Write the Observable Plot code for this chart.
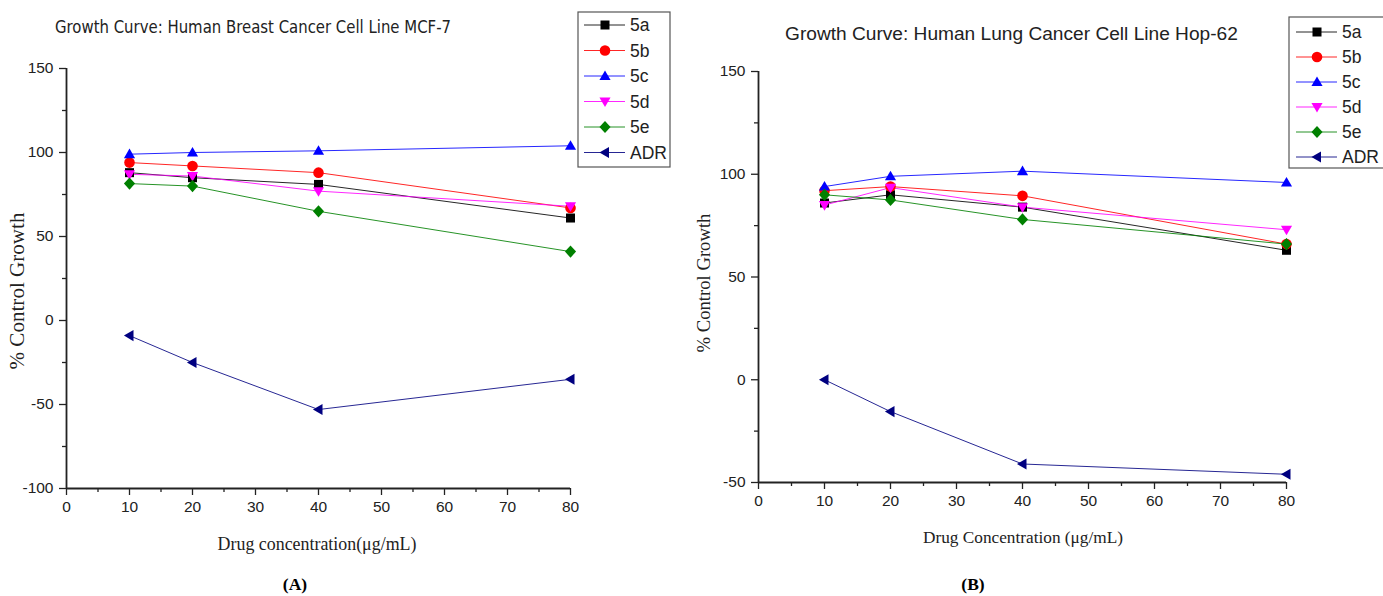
<!DOCTYPE html>
<html><head><meta charset="utf-8">
<script src="https://cdn.jsdelivr.net/npm/d3@7"></script>
<script src="https://cdn.jsdelivr.net/npm/@observablehq/plot@0.6"></script>
<style>
body{margin:0;background:#fff;overflow:hidden;}
#root{position:relative;width:1383px;height:596px;overflow:hidden;background:#fff;}
#root svg{position:absolute;}
</style></head><body><div id="root"></div>
<script>
// ---------- data ----------
const concentrations = [10, 20, 40, 80];
const seriesLabels = ["5a", "5b", "5c", "5d", "5e", "ADR"];
const seriesColors = ["#000000", "#ff0000", "#0000ff", "#ff00ff", "#008000", "#000080"];

const mcf7_5a  = [88, 85, 81, 61];
const mcf7_5b  = [94, 92, 88, 67];
const mcf7_5c  = [99, 100, 101, 104];
const mcf7_5d  = [87, 86, 77, 68];
const mcf7_5e  = [81.5, 80, 65, 41];
const mcf7_ADR = [-9, -25, -53, -35];

const hop62_5a  = [86, 90, 84, 63];
const hop62_5b  = [92, 94, 89.5, 66];
const hop62_5c  = [94, 99, 101.5, 96];
const hop62_5d  = [85, 93.5, 84, 73];
const hop62_5e  = [90, 87.5, 78, 66];
const hop62_ADR = [0, -15.5, -41, -46];

const xTicksMajor = [0, 10, 20, 30, 40, 50, 60, 70, 80];
const xTicksMinor = [5, 15, 25, 35, 45, 55, 65, 75];
const yTicksMajorA = [-100, -50, 0, 50, 100, 150];
const yTicksMinorA = [-75, -25, 25, 75, 125];
const yTicksMajorB = [-50, 0, 50, 100, 150];
const yTicksMinorB = [-25, 25, 75, 125];

const titleA = "Growth Curve: Human Breast Cancer Cell Line MCF-7";
const titleB = "Growth Curve: Human Lung Cancer Cell Line Hop-62";
const xLabelA = "Drug concentration(\u03bcg/mL)";
const xLabelB = "Drug Concentration (\u03bcg/mL)";
const yLabel = "% Control Growth";

// ---------- symbols ----------
const rad = s => Math.sqrt(s / Math.PI);
const symSquare = {draw(c, s){const h = rad(s) * 0.85; c.rect(-h, -h, 2*h, 2*h);}};
const symCircle = {draw(c, s){const r = rad(s); c.moveTo(r, 0); c.arc(0, 0, r, 0, 2*Math.PI);}};
const symTriUp = {draw(c, s){const r = rad(s); c.moveTo(0, -r*1.05); c.lineTo(r*1.05, r*0.75); c.lineTo(-r*1.05, r*0.75); c.closePath();}};
const symTriDown = {draw(c, s){const r = rad(s); c.moveTo(0, r*1.05); c.lineTo(r*1.05, -r*0.75); c.lineTo(-r*1.05, -r*0.75); c.closePath();}};
const symDiamond = {draw(c, s){const r = rad(s); c.moveTo(0, -r*1.15); c.lineTo(r*1.05, 0); c.lineTo(0, r*1.15); c.lineTo(-r*1.05, 0); c.closePath();}};
const symTriLeft = {draw(c, s){const r = rad(s); c.moveTo(-r*1.05, 0); c.lineTo(r*0.75, -r*1.05); c.lineTo(r*0.75, r*1.05); c.closePath();}};
const seriesSymbols = [symSquare, symCircle, symTriUp, symTriDown, symDiamond, symTriLeft];
const MARK_R = 5.3;

// ---------- charts ----------
const fmt = d => String(d);
function makeChart(vals, cfg) {
  const marks = [
    Plot.axisY(cfg.yMajor, {tickSize: 7, tickPadding: 6, label: null, strokeWidth: 1.3, fill: "#222", fontSize: 15.5, tickFormat: fmt}),
    Plot.axisY(cfg.yMinor, {tickSize: 4, tickFormat: () => "", label: null, strokeWidth: 1.3}),
    Plot.axisX(xTicksMajor, {tickSize: 7, tickPadding: 5, label: null, strokeWidth: 1.3, fill: "#222", fontSize: 15.5, tickFormat: fmt}),
    Plot.axisX(xTicksMinor, {tickSize: 4, tickFormat: () => "", label: null, strokeWidth: 1.3}),
    Plot.ruleX([0], {stroke: "#222", strokeWidth: 1.8}),
    Plot.ruleY([cfg.yDomain[0]], {stroke: "#222", strokeWidth: 1.8})
  ];
  seriesLabels.forEach((name, i) => {
    const data = concentrations.map((c, j) => ({conc: c, value: vals[i][j], series: name}));
    marks.push(Plot.line(data, {x: "conc", y: "value", stroke: seriesColors[i], strokeWidth: 1, strokeOpacity: 0.85}));
  });
  seriesLabels.forEach((name, i) => {
    const data = concentrations.map((c, j) => ({conc: c, value: vals[i][j], series: name}));
    marks.push(Plot.dot(data, {x: "conc", y: "value", fill: seriesColors[i], stroke: "none", r: MARK_R, symbol: seriesSymbols[i]}));
  });
  const svg = Plot.plot({
    width: cfg.width, height: 560,
    marginLeft: cfg.ml, marginRight: cfg.mr, marginTop: cfg.mt, marginBottom: cfg.mb,
    x: {domain: [0, 80]},
    y: {domain: cfg.yDomain},
    style: {fontFamily: "'Liberation Sans', Arial, sans-serif", fontSize: "15.5px", color: "#222", background: "transparent", overflow: "visible"},
    marks
  });
  svg.style.left = cfg.left + "px";
  svg.style.top = "0px";
  return svg;
}

const root = document.getElementById("root");
root.appendChild(makeChart([mcf7_5a, mcf7_5b, mcf7_5c, mcf7_5d, mcf7_5e, mcf7_ADR],
  {left: 0, width: 690, ml: 66, mr: 120, mt: 68, mb: 72, yDomain: [-100, 150], yMajor: yTicksMajorA, yMinor: yTicksMinorA}));
root.appendChild(makeChart([hop62_5a, hop62_5b, hop62_5c, hop62_5d, hop62_5e, hop62_ADR],
  {left: 690, width: 693, ml: 68, mr: 97, mt: 71, mb: 78, yDomain: [-50, 150], yMajor: yTicksMajorB, yMinor: yTicksMinorB}));

// ---------- text + legends overlay ----------
const ov = d3.select(root).append("svg").attr("width", 1383).attr("height", 596)
  .style("left", "0px").style("top", "0px").style("pointer-events", "none");

function addText(t, x, y, o) {
  const el = ov.append("text").text(t).attr("x", x).attr("y", y)
    .attr("dominant-baseline", "central")
    .attr("text-anchor", o.anchor || "start")
    .attr("font-family", o.font).attr("font-size", o.size)
    .attr("font-weight", o.weight || "normal").attr("fill", o.fill || "#222");
  if (o.rotate) el.attr("transform", `rotate(${o.rotate},${x},${y})`);
  if (o.width) {
    const w = el.node().getComputedTextLength();
    if (o.squeeze) el.attr("textLength", o.width).attr("lengthAdjust", "spacingAndGlyphs");
    else el.attr("font-size", o.size * o.width / w);
  }
  return el;
}
const SANS = "'Liberation Sans', Arial, sans-serif";
const SERIF = "'Liberation Serif', 'Times New Roman', serif";

addText(titleA, 55, 27, {font: "'DejaVu Sans', Verdana, sans-serif", size: 17, width: 396, squeeze: true, fill: "#222"});
addText(titleB, 785, 33, {font: SANS, size: 17, width: 453, fill: "#222"});
addText(xLabelA, 317, 544, {font: SERIF, size: 16, width: 199, anchor: "middle"});
addText(xLabelB, 1023, 537, {font: SERIF, size: 16, width: 200, anchor: "middle"});
addText(yLabel, 17, 291, {font: SERIF, size: 17, width: 157, anchor: "middle", rotate: -90});
addText(yLabel, 703, 283, {font: SERIF, size: 16, width: 139, anchor: "middle", rotate: -90});
addText("(A)", 295, 584, {font: SERIF, size: 17.5, weight: "bold", anchor: "middle", fill: "#000"});
addText("(B)", 973, 584, {font: SERIF, size: 17.5, weight: "bold", anchor: "middle", fill: "#000"});

function legend(bx, by, bw, bh, y0, dy, lx0, lx1, mx, tx) {
  ov.append("rect").attr("x", bx).attr("y", by).attr("width", bw).attr("height", bh)
    .attr("fill", "none").attr("stroke", "#555").attr("stroke-width", 1.2);
  seriesLabels.forEach((name, i) => {
    const y = y0 + i * dy;
    ov.append("line").attr("x1", lx0).attr("x2", lx1).attr("y1", y).attr("y2", y)
      .attr("stroke", seriesColors[i]).attr("stroke-width", 1).attr("stroke-opacity", 0.85);
    const p = d3.path();
    seriesSymbols[i].draw(p, Math.PI * MARK_R * MARK_R);
    ov.append("path").attr("d", p.toString()).attr("transform", `translate(${mx},${y})`).attr("fill", seriesColors[i]);
    addText(name, tx, y, {font: SANS, size: 17.5, fill: "#222"});
  });
}
legend(578, 12, 92, 155, 25, 25.5, 584, 625, 605, 630);
legend(1289, 17, 100, 151, 32, 25, 1296, 1337, 1317, 1342);
</script>
</body></html>
